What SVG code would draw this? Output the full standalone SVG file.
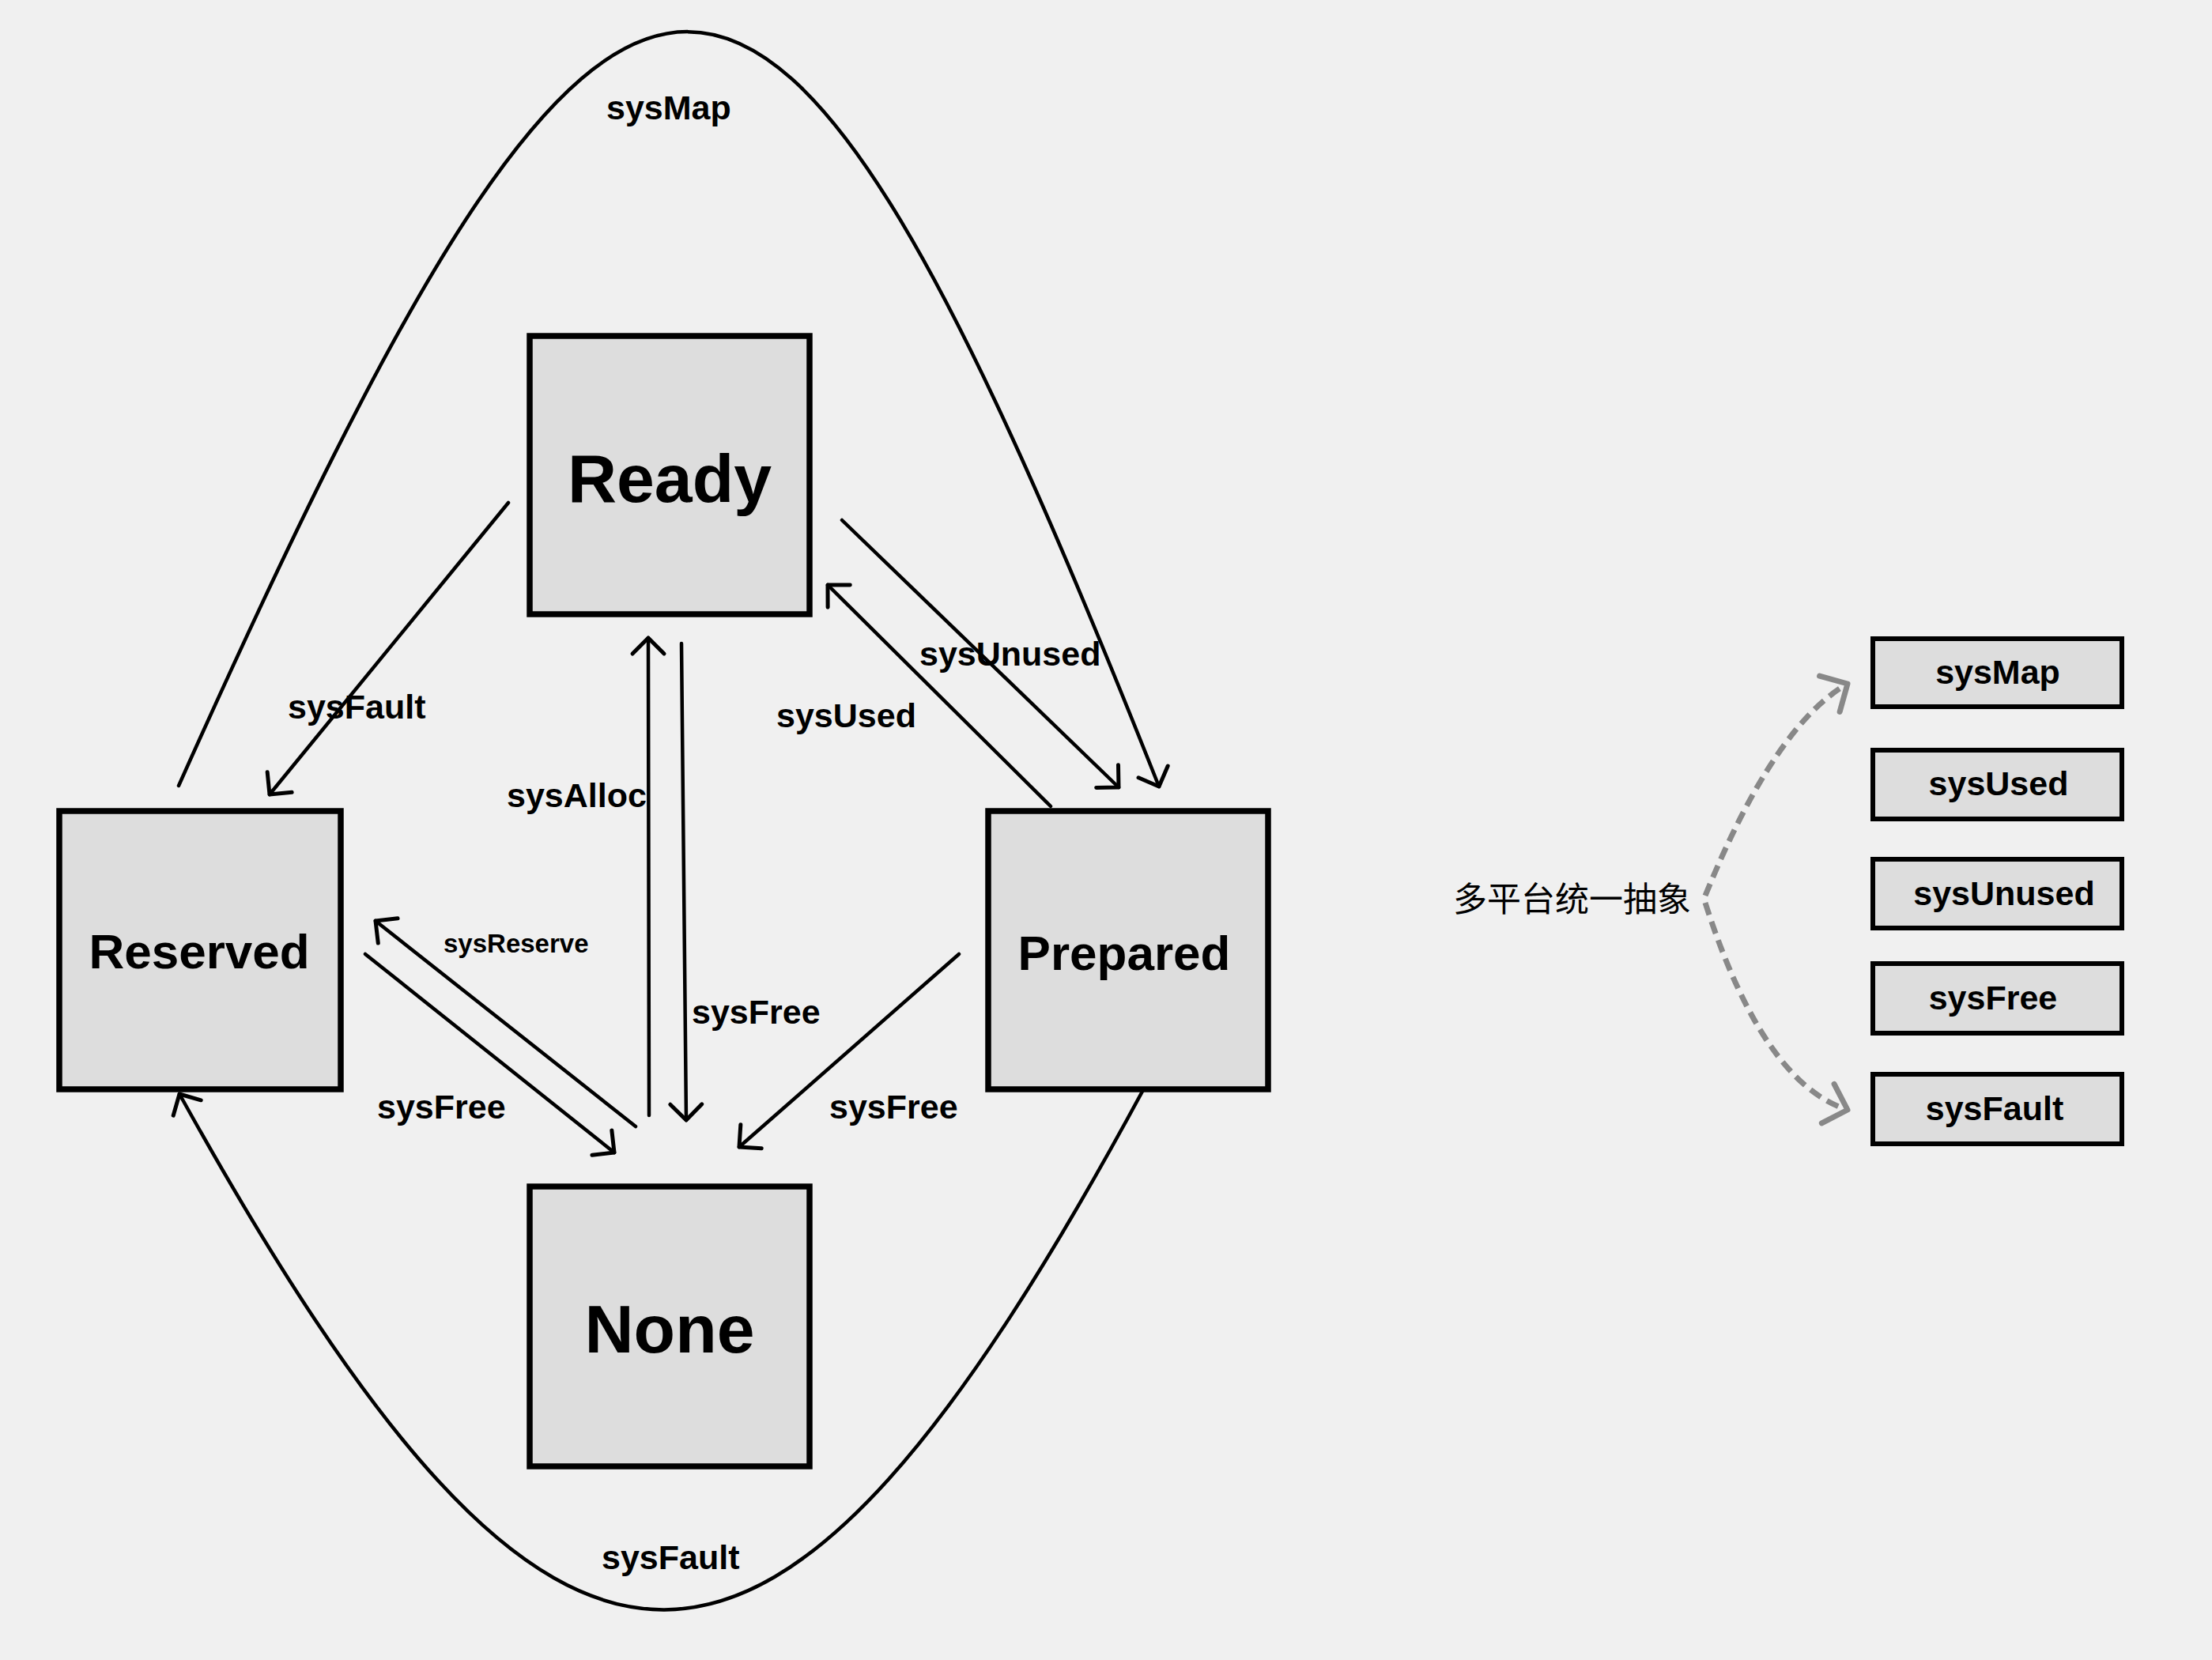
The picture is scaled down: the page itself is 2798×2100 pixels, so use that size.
<svg xmlns="http://www.w3.org/2000/svg" width="2798" height="2100" viewBox="0 0 2798 2100">
  <style>
    .state rect { fill: #dddddd; stroke: #000; stroke-width: 7.5; }
    .state text { font-family: "Liberation Sans", Arial, sans-serif; font-weight: bold; fill: #000; text-anchor: middle; }
    .big { font-size: 86px; }
    .mid { font-size: 62px; }
    .api rect { fill: #dddddd; stroke: #000; stroke-width: 6; }
    .api text { font-family: "Liberation Sans", Arial, sans-serif; font-weight: bold; font-size: 43px; fill: #000; text-anchor: middle; }
    .edge { fill: none; stroke: #000; stroke-width: 4.5; stroke-linecap: round; marker-end: url(#arrow); }
    .dash { fill: none; stroke: #888888; stroke-width: 7; stroke-dasharray: 16 9; marker-end: url(#garrow); }
    .lbl { font-family: "Liberation Sans", Arial, sans-serif; font-weight: bold; font-size: 43px; fill: #000; }
    .small { font-size: 33px; }
    .cjk { font-family: "Liberation Sans", "Noto Sans CJK SC", sans-serif; font-size: 43px; fill: #000; }
  </style>
  <defs>
    <marker id="arrow" markerUnits="userSpaceOnUse" markerWidth="60" markerHeight="60" viewBox="-30 -30 60 60" refX="0" refY="0" orient="auto" overflow="visible">
      <path d="M -20 -20 L 0 0 L -20 20" fill="none" stroke="#000" stroke-width="5" stroke-linecap="round" stroke-linejoin="round"/>
    </marker>
    <marker id="garrow" markerUnits="userSpaceOnUse" markerWidth="80" markerHeight="80" viewBox="-40 -40 80 80" refX="0" refY="0" orient="auto" overflow="visible">
      <path d="M -26 -26 L 0 0 L -26 26" fill="none" stroke="#888888" stroke-width="7" stroke-linecap="round" stroke-linejoin="round"/>
    </marker>
  </defs>

  <rect x="0" y="0" width="2798" height="2100" fill="#f0f0f0"/>

  <g id="connectors">
    <!-- sysMap arc: Reserved -> Prepared -->
    <path class="edge" d="M 226 994 C 795 -278 961 -278 1466 995"/>
    <!-- sysFault arc: Prepared -> Reserved -->
    <path class="edge" d="M 1447 1377 C 973 2255 710 2255 227 1384"/>
    <!-- Ready -> Reserved sysFault -->
    <path class="edge" d="M 643 636 L 341 1005"/>
    <!-- Prepared -> Ready sysUsed -->
    <path class="edge" d="M 1329 1020 L 1047 740"/>
    <!-- Ready -> Prepared sysUnused -->
    <path class="edge" d="M 1065 658 L 1415 996"/>
    <!-- None -> Ready sysAlloc -->
    <path class="edge" d="M 821 1411 L 820 807"/>
    <!-- Ready -> None sysFree -->
    <path class="edge" d="M 862 814 L 868 1417"/>
    <!-- None -> Reserved sysReserve -->
    <path class="edge" d="M 804 1425 L 475 1165"/>
    <!-- Reserved -> None sysFree -->
    <path class="edge" d="M 462 1207 L 777 1458"/>
    <!-- Prepared -> None sysFree -->
    <path class="edge" d="M 1213 1207 L 935 1451"/>

    <!-- abstraction dashed arrows -->
    <path class="dash" d="M 2157 1133 Q 2245 917 2337 865"/>
    <path class="dash" d="M 2157 1142 Q 2230 1370 2337 1404"/>

    <text class="lbl" x="767" y="151">sysMap</text>
    <text class="lbl" x="364" y="909">sysFault</text>
    <text class="lbl" x="1163" y="842">sysUnused</text>
    <text class="lbl" x="982" y="920">sysUsed</text>
    <text class="lbl" x="641" y="1021">sysAlloc</text>
    <text class="lbl small" x="561" y="1205">sysReserve</text>
    <text class="lbl" x="875" y="1295">sysFree</text>
    <text class="lbl" x="477" y="1415">sysFree</text>
    <text class="lbl" x="1049" y="1415">sysFree</text>
    <text class="lbl" x="761" y="1985">sysFault</text>
  </g>

  <g id="node-ready" class="state">
    <rect x="670" y="425" width="354" height="352"/>
    <text class="big" x="847" y="635">Ready</text>
  </g>
  <g id="node-reserved" class="state">
    <rect x="75" y="1026" width="356" height="352"/>
    <text class="mid" x="252" y="1225">Reserved</text>
  </g>
  <g id="node-prepared" class="state">
    <rect x="1250" y="1026" width="354" height="352"/>
    <text class="mid" x="1422" y="1227">Prepared</text>
  </g>
  <g id="node-none" class="state">
    <rect x="670" y="1501" width="354" height="354"/>
    <text class="big" x="847" y="1711">None</text>
  </g>

  <g id="node-abstraction">
    <text class="cjk" x="1838" y="1153">多平台统一抽象</text>
  </g>

  <g id="node-sysMap" class="api">
    <rect x="2369" y="808" width="315" height="86"/>
    <text x="2527" y="865">sysMap</text>
  </g>
  <g id="node-sysUsed" class="api">
    <rect x="2369" y="949" width="315" height="87"/>
    <text x="2528" y="1006">sysUsed</text>
  </g>
  <g id="node-sysUnused" class="api">
    <rect x="2369" y="1087" width="315" height="87"/>
    <text x="2535" y="1145">sysUnused</text>
  </g>
  <g id="node-sysFree" class="api">
    <rect x="2369" y="1219" width="315" height="88"/>
    <text x="2521" y="1277">sysFree</text>
  </g>
  <g id="node-sysFault" class="api">
    <rect x="2369" y="1359" width="315" height="88"/>
    <text x="2523" y="1417">sysFault</text>
  </g>
</svg>
